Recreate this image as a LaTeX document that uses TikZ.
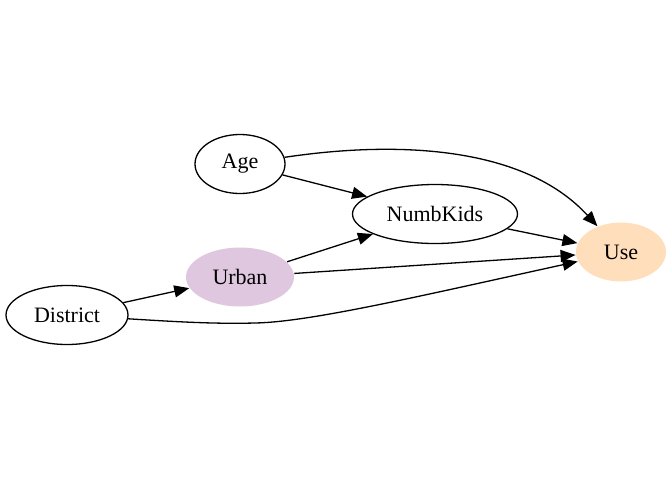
\documentclass[tikz,border=0pt]{standalone}
\usepackage{fontspec}
\setmainfont{Liberation Serif}
\usepackage{tikz}
\usetikzlibrary{shapes, arrows.meta}
\definecolor{usefill}{HTML}{FFDFBB}
\definecolor{urbanfill}{HTML}{DFC7DF}
\tikzset{>={Triangle[length=15pt,width=12pt]}}
\tikzset{var/.style={ellipse,draw,line width=1.3pt,inner sep=0pt,minimum height=59pt,font=\fontsize{22}{26}\selectfont}}
\tikzset{edge/.style={->,line width=1.3pt}}

\begin{document}
\begin{tikzpicture}[x=1pt,y=-1pt]
\useasboundingbox (0,0) rectangle (672,480);
\node [var,minimum width=90pt] (age) at (240,164) {Age};
\node [var,minimum width=165pt] (kids) at (435,214) {NumbKids};
\node [var,draw=none,fill=usefill,minimum width=90pt] (use) at (621,252) {Use};
\node [var,draw=none,fill=urbanfill,minimum width=108pt] (urban) at (240,277) {Urban};
\node [var,minimum width=122pt] (district) at (67,315) {District};
\draw [edge] (age) .. controls (400,140) and (525,147) .. (use);
\draw [edge] (age) -- (kids);
\draw [edge] (kids) -- (use);
\draw [edge] (urban) -- (kids);
\draw [edge] (urban) -- (use);
\draw [edge] (district) -- (urban);
\draw [edge] (district) .. controls (180,322) and (215,324) .. (255,323)
  .. controls (310,322) and (420,296) .. (use);
\end{tikzpicture}
\end{document}
